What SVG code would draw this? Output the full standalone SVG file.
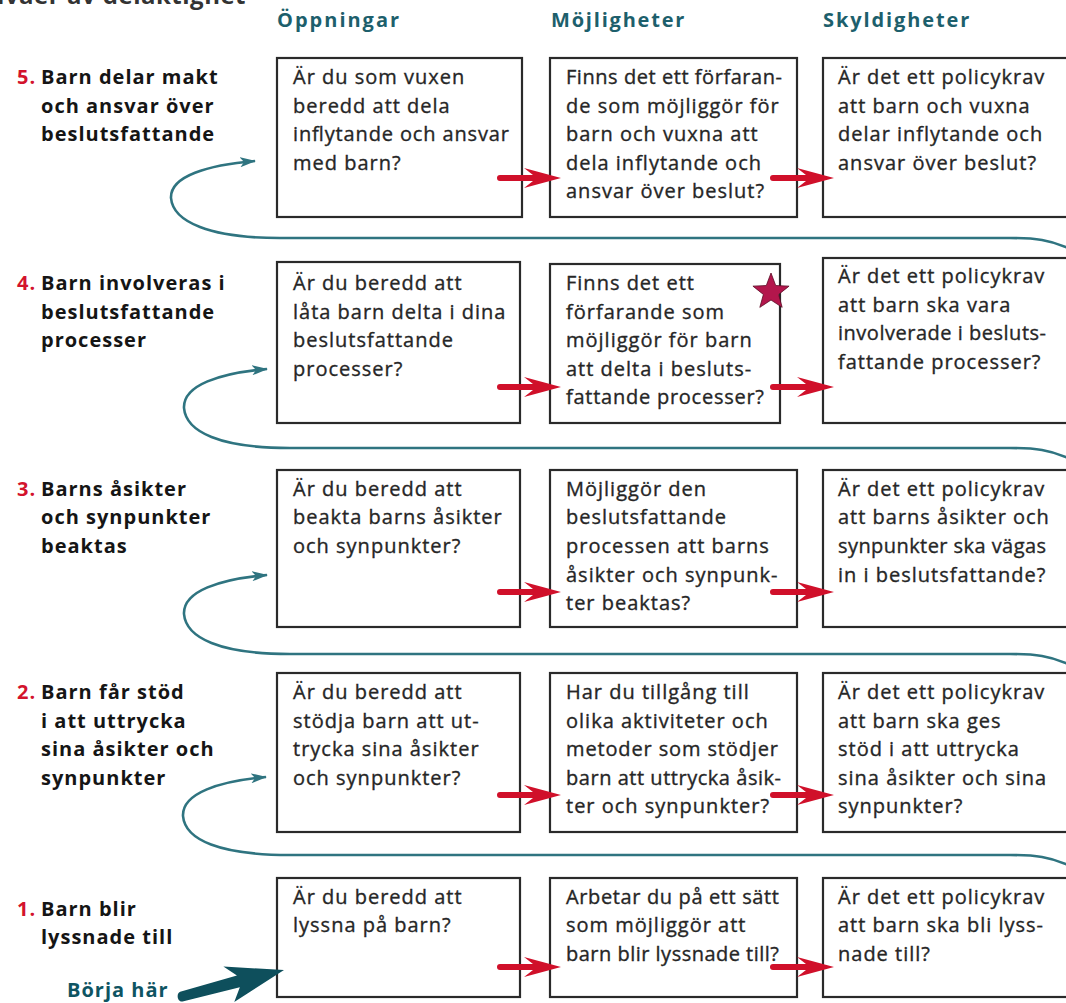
<svg xmlns="http://www.w3.org/2000/svg" width="1066" height="1003" viewBox="0 0 1066 1003">
<style>
.bx{fill:#fff;stroke:#2a2a2a;stroke-width:2.2}
.b{font-family:"Open Sans","Liberation Sans",sans-serif;font-size:20px;fill:#262626;stroke:#262626;stroke-width:0.35;letter-spacing:1px}
.t{letter-spacing:0}
.lab{font-family:"Open Sans","Liberation Sans",sans-serif;font-weight:700;font-size:20px;fill:#151515;letter-spacing:1px}
.num{fill:#d3132d}
.hdr{font-family:"Open Sans","Liberation Sans",sans-serif;font-weight:700;font-size:20px;fill:#1d5f6c}
.teal{fill:none;stroke:#2f7480;stroke-width:2.6}
.red{fill:#d0102a}
</style>
<defs>
<marker id="th" markerUnits="userSpaceOnUse" viewBox="0 0 16 10" refX="15" refY="5" markerWidth="16" markerHeight="10" orient="auto">
<path d="M0,0 L16,5 L0,10 L4,5 Z" fill="#2f7480"/>
</marker>
<path id="ra" d="M3,-3 H36 L27,-10 L64,0 L27,10 L36,3 H3 A3,3 0 0 1 3,-3 Z"/>
</defs>

<text x="246" y="4" text-anchor="end" font-family="Open Sans, Liberation Sans, sans-serif" font-weight="700" font-size="24" letter-spacing="0.5" fill="#333">Nivåer av delaktighet</text>

<g id="headers">
<text class="hdr" x="277" y="27" letter-spacing="2">Öppningar</text>
<text class="hdr" x="551" y="27" letter-spacing="1.8">Möjligheter</text>
<text class="hdr" x="823" y="27" letter-spacing="1.9">Skyldigheter</text>
</g>

<g id="label5">
<text class="lab num" x="17" y="84">5.</text>
<text class="lab" x="41" y="84">Barn delar makt</text>
<text class="lab" x="41" y="113">och ansvar över</text>
<text class="lab" x="41" y="141">beslutsfattande</text>
</g>
<g id="label4">
<text class="lab num" x="17" y="290">4.</text>
<text class="lab" x="41" y="290">Barn involveras i</text>
<text class="lab" x="41" y="319">beslutsfattande</text>
<text class="lab" x="41" y="347">processer</text>
</g>
<g id="label3">
<text class="lab num" x="17" y="496">3.</text>
<text class="lab" x="41" y="496">Barns åsikter</text>
<text class="lab" x="41" y="524">och synpunkter</text>
<text class="lab" x="41" y="553">beaktas</text>
</g>
<g id="label2">
<text class="lab num" x="17" y="699">2.</text>
<text class="lab" x="41" y="699">Barn får stöd</text>
<text class="lab" x="41" y="728">i att uttrycka</text>
<text class="lab" x="41" y="756">sina åsikter och</text>
<text class="lab" x="41" y="785">synpunkter</text>
</g>
<g id="label1">
<text class="lab num" x="17" y="916">1.</text>
<text class="lab" x="41" y="916">Barn blir</text>
<text class="lab" x="41" y="944">lyssnade till</text>
</g>
<g id="start">
<text class="lab" x="67" y="997" style="fill:#0e5462">Börja här</text>
</g>

<!-- Row 5 -->
<g id="r5c1"><rect class="bx" x="277" y="58" width="245" height="159"/>
<text class="b" x="293" y="84">Är du som vuxen</text>
<text class="b" x="293" y="113">beredd att dela</text>
<text class="b t" x="293" y="141" textLength="216" lengthAdjust="spacing">inflytande och ansvar</text>
<text class="b" x="293" y="170">med barn?</text></g>
<g id="r5c2"><rect class="bx" x="550" y="58" width="247" height="159"/>
<text class="b t" x="566" y="84" textLength="216" lengthAdjust="spacing">Finns det ett förfaran-</text>
<text class="b" x="566" y="113">de som möjliggör för</text>
<text class="b" x="566" y="141">barn och vuxna att</text>
<text class="b" x="566" y="170">dela inflytande och</text>
<text class="b" x="566" y="198">ansvar över beslut?</text></g>
<g id="r5c3"><rect class="bx" x="823" y="58" width="250" height="159"/>
<text class="b" x="838" y="84">Är det ett policykrav</text>
<text class="b" x="838" y="113">att barn och vuxna</text>
<text class="b" x="838" y="141">delar inflytande och</text>
<text class="b" x="838" y="170">ansvar över beslut?</text></g>

<!-- Row 4 -->
<g id="r4c1"><rect class="bx" x="277" y="262" width="243" height="161"/>
<text class="b" x="293" y="290">Är du beredd att</text>
<text class="b" x="293" y="319">låta barn delta i dina</text>
<text class="b" x="293" y="347">beslutsfattande</text>
<text class="b" x="293" y="376">processer?</text></g>
<g id="r4c2"><rect class="bx" x="550" y="264" width="230" height="159"/>
<text class="b" x="566" y="290">Finns det ett</text>
<text class="b" x="566" y="319">förfarande som</text>
<text class="b" x="566" y="347">möjliggör för barn</text>
<text class="b" x="566" y="376">att delta i besluts-</text>
<text class="b t" x="566" y="404" textLength="198" lengthAdjust="spacing">fattande processer?</text>
<polygon points="771,273 775.7,285.53 789.07,286.13 778.61,294.47 782.17,307.37 771,300 759.83,307.37 763.39,294.47 752.93,286.13 766.3,285.53" fill="#b3164c" stroke="#5a0a25" stroke-width="0.8"/></g>
<g id="r4c3"><rect class="bx" x="823" y="258" width="250" height="165"/>
<text class="b" x="838" y="283">Är det ett policykrav</text>
<text class="b" x="838" y="312">att barn ska vara</text>
<text class="b t" x="838" y="340" textLength="208" lengthAdjust="spacing">involverade i besluts-</text>
<text class="b" x="838" y="369">fattande processer?</text></g>

<!-- Row 3 -->
<g id="r3c1"><rect class="bx" x="277" y="470" width="243" height="157"/>
<text class="b" x="293" y="496">Är du beredd att</text>
<text class="b" x="293" y="524">beakta barns åsikter</text>
<text class="b" x="293" y="553">och synpunkter?</text></g>
<g id="r3c2"><rect class="bx" x="550" y="470" width="247" height="157"/>
<text class="b" x="566" y="496">Möjliggör den</text>
<text class="b" x="566" y="524">beslutsfattande</text>
<text class="b" x="566" y="553">processen att barns</text>
<text class="b" x="566" y="582">åsikter och synpunk-</text>
<text class="b" x="566" y="610">ter beaktas?</text></g>
<g id="r3c3"><rect class="bx" x="823" y="470" width="250" height="157"/>
<text class="b" x="838" y="496">Är det ett policykrav</text>
<text class="b" x="838" y="524">att barns åsikter och</text>
<text class="b t" x="838" y="553" textLength="208" lengthAdjust="spacing">synpunkter ska vägas</text>
<text class="b" x="838" y="582">in i beslutsfattande?</text></g>

<!-- Row 2 -->
<g id="r2c1"><rect class="bx" x="277" y="673" width="243" height="159"/>
<text class="b" x="293" y="699">Är du beredd att</text>
<text class="b" x="293" y="728">stödja barn att ut-</text>
<text class="b" x="293" y="756">trycka sina åsikter</text>
<text class="b" x="293" y="785">och synpunkter?</text></g>
<g id="r2c2"><rect class="bx" x="550" y="673" width="247" height="159"/>
<text class="b" x="566" y="699">Har du tillgång till</text>
<text class="b" x="566" y="728">olika aktiviteter och</text>
<text class="b t" x="566" y="756" textLength="212" lengthAdjust="spacing">metoder som stödjer</text>
<text class="b t" x="566" y="785" textLength="215" lengthAdjust="spacing">barn att uttrycka åsik-</text>
<text class="b" x="566" y="813">ter och synpunkter?</text></g>
<g id="r2c3"><rect class="bx" x="823" y="673" width="250" height="159"/>
<text class="b" x="838" y="699">Är det ett policykrav</text>
<text class="b" x="838" y="728">att barn ska ges</text>
<text class="b" x="838" y="756">stöd i att uttrycka</text>
<text class="b" x="838" y="785">sina åsikter och sina</text>
<text class="b" x="838" y="813">synpunkter?</text></g>

<!-- Row 1 -->
<g id="r1c1"><rect class="bx" x="277" y="878" width="243" height="119"/>
<text class="b" x="293" y="904">Är du beredd att</text>
<text class="b" x="293" y="932">lyssna på barn?</text></g>
<g id="r1c2"><rect class="bx" x="550" y="878" width="247" height="119"/>
<text class="b t" x="566" y="904" textLength="213" lengthAdjust="spacing">Arbetar du på ett sätt</text>
<text class="b" x="566" y="932">som möjliggör att</text>
<text class="b t" x="566" y="961" textLength="213" lengthAdjust="spacing">barn blir lyssnade till?</text></g>
<g id="r1c3"><rect class="bx" x="823" y="878" width="250" height="119"/>
<text class="b" x="838" y="904">Är det ett policykrav</text>
<text class="b" x="838" y="932">att barn ska bli lyss-</text>
<text class="b" x="838" y="961">nade till?</text></g>

<g id="connectors">
<g class="red">
<use href="#ra" x="497" y="178"/><use href="#ra" x="770" y="178"/>
<use href="#ra" x="497" y="387"/><use href="#ra" x="770" y="387"/>
<use href="#ra" x="497" y="592"/><use href="#ra" x="770" y="592"/>
<use href="#ra" x="497" y="795"/><use href="#ra" x="770" y="795"/>
<use href="#ra" x="497" y="967"/><use href="#ra" x="770" y="967"/>
</g>
<path class="teal" marker-end="url(#th)" d="M1068,248 C1050,240 1036,238 1010,238 L280,238 C210,238 173,222 171,198 C170,176 208,165 255,161"/>
<path class="teal" marker-end="url(#th)" d="M1068,458 C1050,450 1036,448 1010,448 L290,448 C220,448 186,432 184,408 C183,385 220,373 267,369"/>
<path class="teal" marker-end="url(#th)" d="M1068,664 C1050,656 1036,654 1010,654 L290,654 C220,654 186,638 184,614 C183,591 220,579 267,575"/>
<path class="teal" marker-end="url(#th)" d="M1068,865 C1050,857 1036,855 1010,855 L290,855 C220,855 185,840 183,816 C182,793 220,781 266,777"/>
<g transform="translate(284,970) rotate(-14)">
<path d="M-106,-4 C-111,-3 -111,6 -106,6 L-47,6 L-56,19 L0,0 L-58,-18 L-47,-6 Z" fill="#0e4f5c"/>
</g>
</g>
</svg>
